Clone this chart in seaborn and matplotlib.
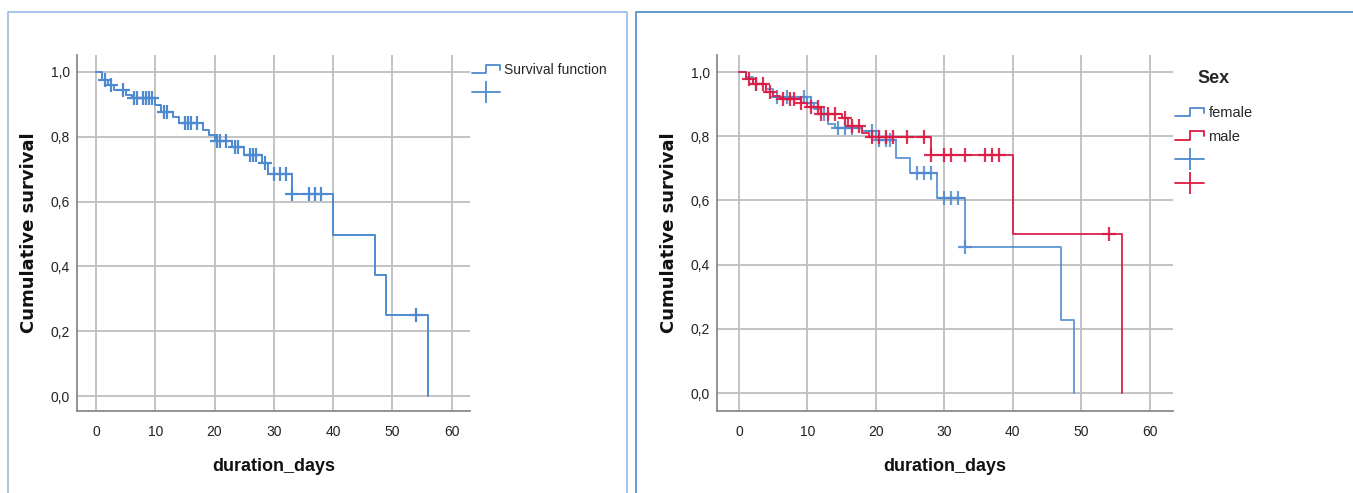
import numpy as np
import pandas as pd
import matplotlib
matplotlib.use('Agg')
import matplotlib.pyplot as plt
import seaborn as sns
from matplotlib.lines import Line2D
from matplotlib.legend_handler import HandlerBase

# overall Kaplan-Meier curve (step times / survival after the step)
all_times = [0, 1, 2, 3, 5, 6, 10, 11, 13, 14, 18, 19, 20, 23, 25, 28, 29, 33, 40, 47, 49, 56]
all_surv = [1.0, 0.975, 0.96, 0.944, 0.929, 0.918, 0.898, 0.877, 0.862, 0.842, 0.821, 0.805,
            0.787, 0.769, 0.745, 0.718, 0.684, 0.623, 0.497, 0.373, 0.25, 0.0]
all_censored = [1.5, 2.5, 4.5, 6.5, 7, 8, 8.5, 9, 9.5, 11.5, 12, 15, 15.5, 16, 17, 20.5, 21, 22,
                23.5, 24, 26, 26.5, 27, 28.5, 30, 31, 32, 33, 36, 37, 38, 54]

# by sex
female_times = [0, 1, 2, 4, 5, 10, 11, 12, 13, 14, 18, 20, 23, 25, 29, 33, 47, 49]
female_surv = [1.0, 0.984, 0.963, 0.947, 0.921, 0.905, 0.884, 0.868, 0.837, 0.826, 0.815,
               0.789, 0.731, 0.684, 0.606, 0.456, 0.228, 0.0]
female_censored = [2.5, 5.5, 7, 9.5, 10.5, 12.5, 14.5, 15.5, 16.5, 19.5, 20.5, 21.5, 22,
                   26, 27, 28, 30, 31, 32, 33]

male_times = [0, 1, 2, 4, 5, 6, 9, 10, 12, 15, 16, 18, 19, 28, 40, 56]
male_surv = [1.0, 0.979, 0.963, 0.937, 0.926, 0.916, 0.905, 0.89, 0.868, 0.858, 0.832, 0.81,
             0.798, 0.742, 0.494, 0.0]
male_censored = [1.5, 2.5, 3.5, 4.5, 6.5, 7.5, 8, 9, 10.5, 11.5, 12, 13, 14, 15.5, 16.5, 17.5,
                 19.5, 20.5, 21.5, 22.5, 24.5, 27, 28, 30, 31, 33, 36, 37, 38, 54]

x_ticks = [0, 10, 20, 30, 40, 50, 60]
y_ticks = [0.0, 0.2, 0.4, 0.6, 0.8, 1.0]
y_ticklabels = ['0,0', '0,2', '0,4', '0,6', '0,8', '1,0']

BLUE = '#4f8ad0'
RED = '#dc1a44'
TICK_FONT = 'Liberation Sans'


class StepHandler(HandlerBase):
    # little step icon like the SPSS legend
    def create_artists(self, legend, orig_handle, xdescent, ydescent, width, height, fontsize, trans):
        x0, y0 = -xdescent, -ydescent
        xs = [x0, x0 + width * 0.5, x0 + width * 0.5, x0 + width, x0 + width]
        ys = [y0 + height * 0.1, y0 + height * 0.1, y0 + height * 0.95, y0 + height * 0.95, y0 + height * 0.45]
        ln = Line2D(xs, ys, color=orig_handle.get_color(), lw=1.3, transform=trans)
        return [ln]


def km_frame(times, surv):
    return pd.DataFrame({'t': times, 's': surv})


def censor_frame(times, surv, cens):
    idx = np.searchsorted(times, cens, side='right') - 1
    return pd.DataFrame({'t': cens, 's': np.array(surv)[idx]})


def draw_km(ax, times, surv, cens, color, alpha=1.0):
    sns.lineplot(data=km_frame(times, surv), x='t', y='s', ax=ax, color=color, lw=1.4,
                 drawstyle='steps-post', estimator=None, sort=False, alpha=alpha)
    cf = censor_frame(times, surv, cens)
    ax.plot(cf['t'], cf['s'], ls='none', marker='+', ms=10, mew=1.6, color=color, alpha=alpha)


def style_axes(ax, xlim, ylim):
    ax.set_xlim(*xlim)
    ax.set_ylim(*ylim)
    ax.set_xticks(x_ticks)
    ax.set_yticks(y_ticks)
    ax.set_xticklabels([str(v) for v in x_ticks], family=TICK_FONT, fontsize=10)
    ax.set_yticklabels(y_ticklabels, family=TICK_FONT, fontsize=10)
    ax.tick_params(axis='x', length=0, pad=10, colors='#222222')
    ax.tick_params(axis='y', length=0, pad=5, colors='#222222')
    ax.grid(True, color='#bebebe', lw=1.3)
    for side in ['top', 'right']:
        ax.spines[side].set_visible(False)
    for side in ['left', 'bottom']:
        ax.spines[side].set_color('#8a8a8a')
        ax.spines[side].set_linewidth(1.3)
    ax.set_xlabel('duration_days', family='Liberation Sans', fontweight='bold', fontsize=13,
                  labelpad=14, color='#111111')
    ax.set_ylabel('Cumulative survival', family='DejaVu Sans', fontweight='bold', fontsize=13,
                  labelpad=9, color='#111111')
    ax.set_facecolor('white')


sns.set_theme(style='whitegrid')
plt.rcParams['font.family'] = ['Liberation Sans', 'DejaVu Sans']

fig = plt.figure(figsize=(13.53, 4.93), dpi=100)
W, H = 1353, 493

ax1 = fig.add_axes([77 / W, 1 - 411 / H, 393 / W, 356 / H])
ax2 = fig.add_axes([717 / W, 1 - 411 / H, 456 / W, 356 / H])

draw_km(ax1, all_times, all_surv, all_censored, BLUE)
style_axes(ax1, (-3.2, 63.1), (-0.046, 1.052))

draw_km(ax2, female_times, female_surv, female_censored, BLUE, alpha=0.85)
draw_km(ax2, male_times, male_surv, male_censored, RED, alpha=0.9)
style_axes(ax2, (-3.2, 63.4), (-0.056, 1.053))

# legends
step_blue = Line2D([], [], color=BLUE)
step_red = Line2D([], [], color=RED)
plus_blue = Line2D([], [], color=BLUE, lw=1.3, marker='|', ms=16, mew=1.3)
plus_red = Line2D([], [], color=RED, lw=1.3, marker='|', ms=16, mew=1.3)

leg1 = fig.legend([step_blue, plus_blue], ['Survival function', ''],
                  handler_map={step_blue: StepHandler()},
                  loc='upper left', bbox_to_anchor=(472 / W, 1 - 63 / H),
                  frameon=False, handlelength=2.0, handletextpad=0.3,
                  labelspacing=0.65, borderpad=0, borderaxespad=0,
                  prop={'family': TICK_FONT, 'size': 10})

leg2 = fig.legend([step_blue, step_red, plus_blue, plus_red], ['female', 'male', '', ''],
                  handler_map={step_blue: StepHandler(), step_red: StepHandler()},
                  loc='upper left', bbox_to_anchor=(1175 / W, 1 - 70 / H),
                  frameon=False, handlelength=2.0, handletextpad=0.3,
                  labelspacing=0.65, borderpad=0, borderaxespad=0,
                  prop={'family': TICK_FONT, 'size': 10.5},
                  title='Sex', title_fontproperties={'family': 'Liberation Sans', 'weight': 'bold', 'size': 13})
leg2._legend_box.sep = 14

# panel frames (output viewer boxes)
fy = 1 - 12 / H
for xs, ys, c in [
    ([8 / W, 8 / W, 627 / W, 627 / W], [-0.1, fy, fy, -0.1], '#8fb4e0'),
    ([636 / W, 636 / W, 1.1], [-0.1, fy, fy], '#3b80c8'),
]:
    fig.add_artist(Line2D(xs, ys, color=c, lw=1.1, transform=fig.transFigure))

fig.savefig('out.png', dpi=100, facecolor='white')
